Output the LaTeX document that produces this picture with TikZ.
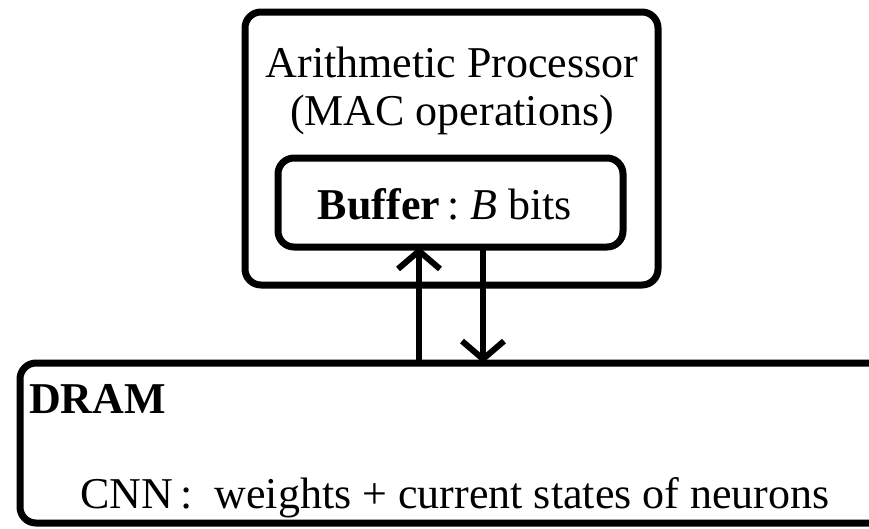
\documentclass[tikz,border=0pt]{standalone}
\usepackage{fontspec}
\setmainfont{Liberation Serif}
\usetikzlibrary{arrows.meta}
\begin{document}
\begin{tikzpicture}[x=1pt,y=-1pt,
  box/.style={draw=black,line width=7pt,rounded corners=16pt,inner sep=0pt,outer sep=0pt},
  txt/.style={inner sep=0pt,anchor=base,font=\fontsize{44}{48}\selectfont},
  arr/.style={line width=6pt,-{Straight Barb[length=18pt,width=42pt,line width=6pt]}}]
\clip (0,0) rectangle (869,528);
\useasboundingbox (0,0) rectangle (869,528);
% processor with its buffer
\node[box,minimum width=413pt,minimum height=273pt] (proc) at (451.5,148.5) {};
\node[box,minimum width=345pt,minimum height=89pt] (buf) at (450.5,202.5) {};
\node[txt] (t1) at (452,77) {Arithmetic Processor};
\node[txt] (t2) at (452,125) {(MAC operations)};
\node[txt] (t3) at (445,219) {\textbf{Buffer}\,:\ \textit{B} bits};
% memory, running off the right side
\node[box,minimum width=900pt,minimum height=160pt] (dram) at (470,443) {};
\node[txt,anchor=base west] (t4) at (29,413) {\textbf{DRAM}};
\node[txt,anchor=base west] (t5) at (80,508) {CNN\,:\ \ weights + current states of neurons};
% data transfers
\coordinate (upx) at (419,0);
\coordinate (dnx) at (483,0);
\draw[arr] (dram.north -| upx) -- (buf.south -| upx);
\draw[arr] (buf.south -| dnx) -- (dram.north -| dnx);
\end{tikzpicture}
\end{document}
